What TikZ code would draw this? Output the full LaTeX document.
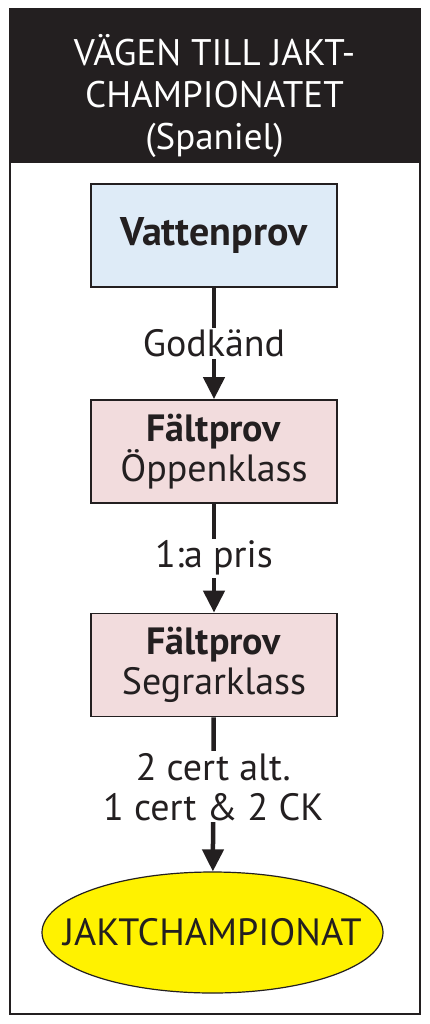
\documentclass[tikz,border=0pt]{standalone}
\usepackage{fontspec}
\setmainfont{PT Sans}
\usetikzlibrary{shapes.geometric,arrows.meta}
\definecolor{ink}{HTML}{231F20}
\definecolor{boxblue}{HTML}{DEEBF7}
\definecolor{boxpink}{HTML}{F2DCDD}
\definecolor{champ}{HTML}{FFF200}
\tikzset{
  stepbox/.style={draw=ink, line width=1.8pt, minimum width=246pt, minimum height=103pt, align=center, text=ink, font=\fontsize{38}{40}\selectfont},
  flow/.style={draw=ink, line width=4.5pt, -{Triangle[length=22pt,width=21pt]}},
  lbl/.style={fill=white, text=ink, align=center, inner sep=2pt, font=\fontsize{38}{40}\selectfont},
  goal/.style={ellipse, draw=ink, line width=1.2pt, fill=champ, minimum width=341pt, minimum height=121pt, inner sep=0pt, text=ink, font=\fontsize{38}{40}\selectfont},
}
\begin{document}
\begin{tikzpicture}[x=1pt,y=-1pt]
\useasboundingbox (0,0) rectangle (429,1024);
\fill[white] (0,0) rectangle (429,1024);
\node[draw=ink, line width=2pt, minimum width=410pt, minimum height=1004pt, inner sep=0pt] (frame) at (214.5,511.5) {};
\node[fill=ink, minimum width=411pt, minimum height=154pt, inner sep=0pt] (title) at (214.5,86) {};
\node[text=white, align=center, inner sep=0pt, font=\fontsize{37}{42}\selectfont] (titletext) at (214.5,96) {VÄGEN TILL JAKT-\\CHAMPIONATET\\(Spaniel)};
\node[stepbox, fill=boxblue] (vatten) at (214,235.5) {\textbf{\fontsize{40}{40}\selectfont Vattenprov}};
\node[stepbox, fill=boxpink] (oppen) at (214,451.5) {\textbf{Fältprov}\\Öppenklass};
\node[stepbox, fill=boxpink] (segrar) at (214,665) {\textbf{Fältprov}\\Segrarklass};
\node[goal] (jakt) at (212.5,932.5) {\makebox[0pt]{JAKTCHAMPIONAT}\vphantom{J}};
\draw[flow] (vatten) -- node[lbl] (l1) {Godkänd} (oppen);
\draw[flow] (oppen) -- node[lbl] (l2) {1:a pris} (segrar);
\draw[flow] (segrar) -- node[lbl, pos=0.45] (l3) {2 cert alt.\\1 cert \& 2 CK} (jakt);
\end{tikzpicture}
\end{document}
